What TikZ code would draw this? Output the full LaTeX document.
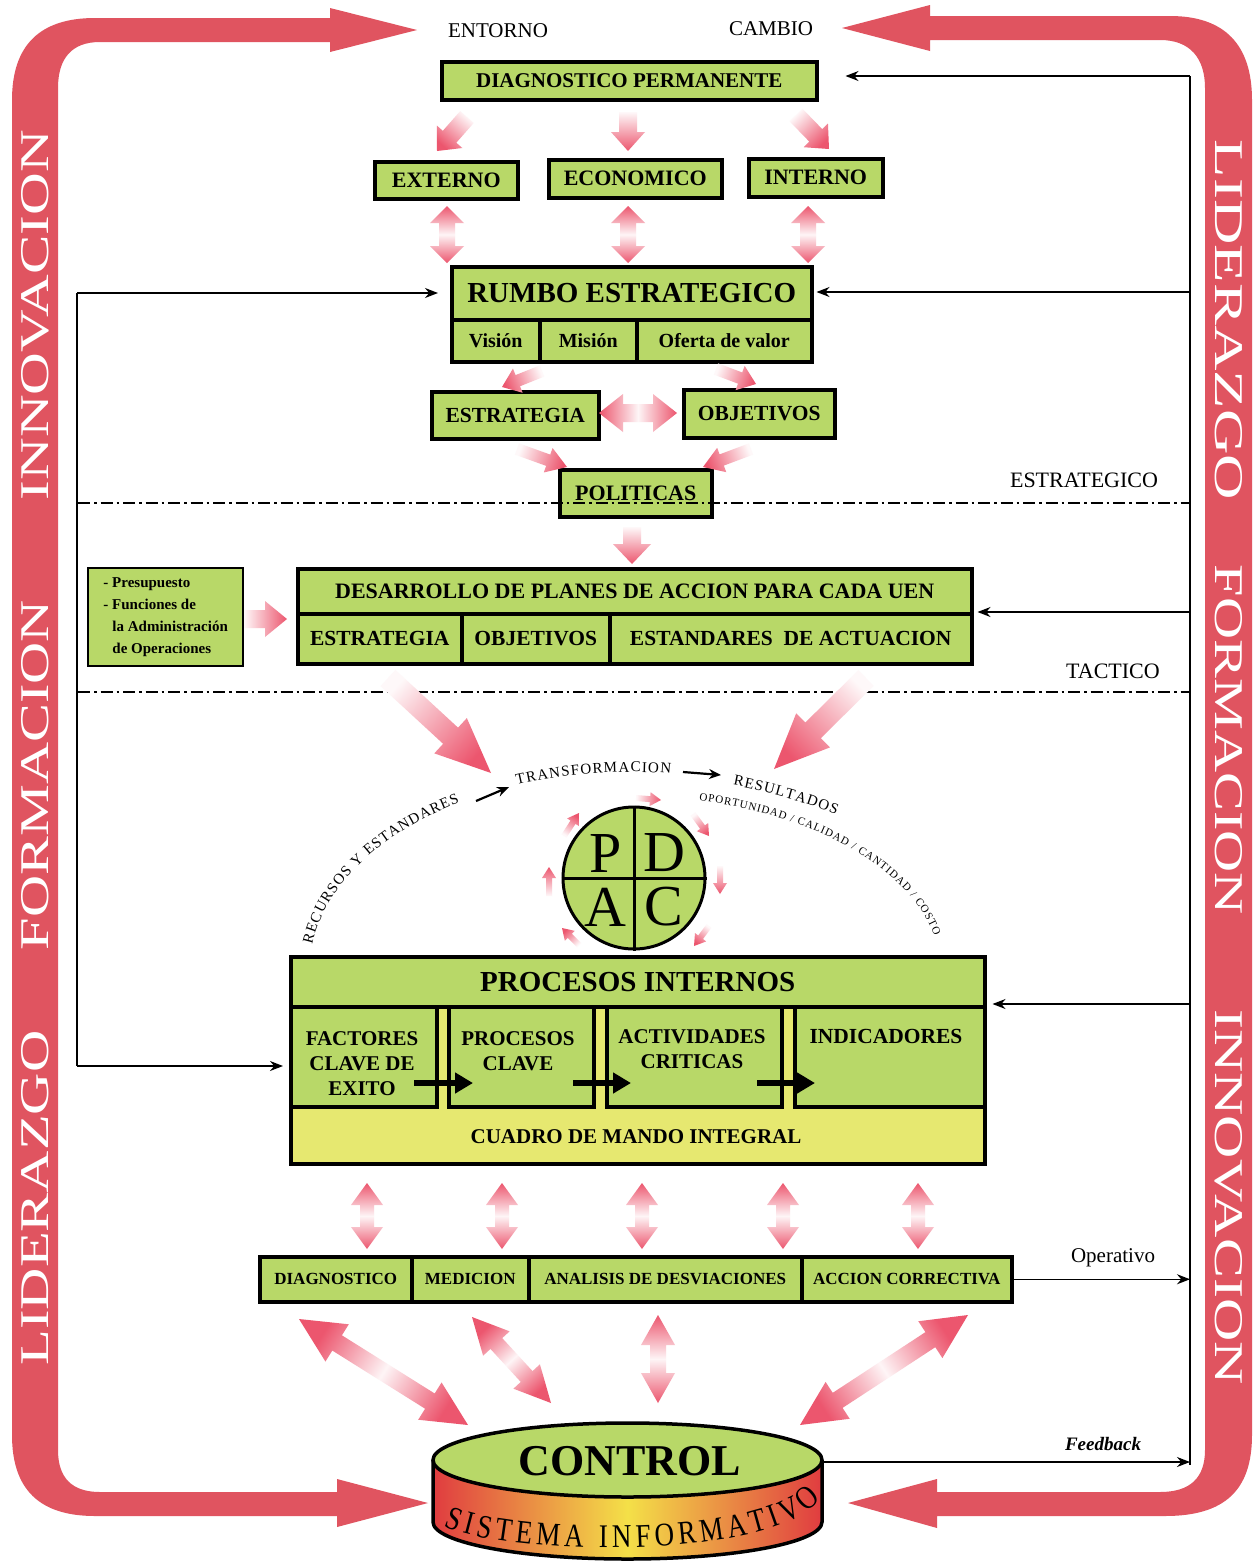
\documentclass[tikz,border=0pt]{standalone}
\usepackage{graphicx}
\usepackage{fontspec}
\setmainfont{Liberation Serif}
\newfontfamily\condserif[FakeStretch=0.82]{Liberation Serif}
\usetikzlibrary{arrows.meta,calc,decorations.text}
\definecolor{bandred}{RGB}{224,84,96}
\definecolor{arrpink}{RGB}{236,86,110}
\definecolor{boxgreen}{RGB}{184,216,104}
\definecolor{stripyel}{RGB}{230,232,112}
\definecolor{cylred}{RGB}{224,60,64}
\definecolor{cylyel}{RGB}{244,224,72}
\newcommand\fsz[1]{\fontsize{#1}{#1}\selectfont}
\newcommand\getang[2]{\path let \p1=(#1),\p2=(#2) in \pgfextra{\pgfmathsetmacro\faA{atan2(\y2-\y1,\x2-\x1)}\global\let\faA\faA};\pgfmathsetmacro\faS{\faA-90}}
\newcommand\sarrow[5]{%
  \getang{#1}{#2}%
  \coordinate (faP) at ($(#2)!#5pt!(#1)$);
  \shade[top color=arrpink, bottom color=arrpink!4, shading angle=\faS]
    ($(#1)!#3pt!90:(#2)$) -- ($(faP)!#3pt!90:(#2)$) -- ($(faP)!#4pt!90:(#2)$) -- (#2)
    -- ($(faP)!#4pt!-90:(#2)$) -- ($(faP)!#3pt!-90:(#2)$) -- ($(#1)!#3pt!-90:(#2)$) -- cycle;}
\newcommand\darrow[5]{%
  \getang{#1}{#2}%
  \coordinate (faP) at ($(#2)!#5pt!(#1)$);
  \coordinate (faQ) at ($(#1)!#5pt!(#2)$);
  \shade[top color=arrpink, bottom color=arrpink, middle color=arrpink!6, shading angle=\faS]
    (#1) -- ($(faQ)!#4pt!90:(#2)$) -- ($(faQ)!#3pt!90:(#2)$) -- ($(faP)!#3pt!90:(#2)$) -- ($(faP)!#4pt!90:(#2)$) -- (#2)
    -- ($(faP)!#4pt!-90:(#2)$) -- ($(faP)!#3pt!-90:(#2)$) -- ($(faQ)!#3pt!-90:(#2)$) -- ($(faQ)!#4pt!-90:(#2)$) -- cycle;}
\newcommand\mybox[7][]{%
  \pgfmathsetlengthmacro\mbw{(#5)-(#3)}%
  \pgfmathsetlengthmacro\mbh{(#6)-(#4)}%
  \node[box,minimum width=\mbw,minimum height=\mbh,#1] (#2) at (#3,#4) {#7};}
\begin{document}
\begin{tikzpicture}[x=1pt,y=-1pt,
  box/.style={draw=black,line width=3.5pt,fill=boxgreen,inner sep=0pt,anchor=north west,font=\bfseries\fsz{21.5}},
  blk/.style={line width=1.4pt,-{Stealth[length=13pt,width=10pt]}},
  thinl/.style={line width=1.4pt},
  karr/.style={line width=2.2pt,-{Stealth[length=12pt,width=10pt]}},
  inarr/.style={line width=6pt,-{Triangle[length=18pt,width=20pt]}},
  dashdot/.style={line width=1.3pt,dash pattern=on 12pt off 4pt on 2.5pt off 4pt},
  lbl/.style={font=\fsz{21},inner sep=0pt},
  bandtxt/.style={text=white,inner sep=0pt}]
\useasboundingbox (0,0) rectangle (1257,1564);
\fill[white] (0,0) rectangle (1257,1564);

% ---------- red frame bands ----------
\fill[bandred] (330,18) -- (95,18) .. controls (40,18) and (12,45) .. (12,100) -- (12,1435) .. controls (12,1490) and (40,1516) .. (95,1516) -- (337,1516) -- (337,1527) -- (428,1503) -- (337,1479) -- (337,1492) -- (100,1492) .. controls (72,1492) and (58,1478) .. (58,1450) -- (58,88) .. controls (58,58) and (72,42) .. (100,42) -- (330,42) -- (330,52) -- (417,30) -- (330,8) -- cycle;
\fill[bandred] (930,16) -- (1170,16) .. controls (1225,16) and (1252,45) .. (1252,100) -- (1252,1435) .. controls (1252,1490) and (1225,1516) .. (1165,1516) -- (937,1516) -- (937,1528) -- (848,1503) -- (937,1479) -- (937,1492) -- (1160,1492) .. controls (1190,1492) and (1205,1478) .. (1205,1450) -- (1205,88) .. controls (1205,58) and (1190,40) .. (1160,40) -- (930,40) -- (930,51) -- (842,28) -- (930,5) -- cycle;
\node[bandtxt,rotate=90] (bl1) at (35,1198) {\resizebox{335pt}{27pt}{LIDERAZGO}};
\node[bandtxt,rotate=90] (bl2) at (35,775) {\resizebox{350pt}{27pt}{FORMACION}};
\node[bandtxt,rotate=90] (bl3) at (35,315) {\resizebox{370pt}{27pt}{INNOVACION}};
\node[bandtxt,rotate=-90] (br1) at (1229,320) {\resizebox{360pt}{27pt}{LIDERAZGO}};
\node[bandtxt,rotate=-90] (br2) at (1229,740) {\resizebox{350pt}{27pt}{FORMACION}};
\node[bandtxt,rotate=-90] (br3) at (1229,1197) {\resizebox{375pt}{27pt}{INNOVACION}};

% ---------- top labels ----------
\node[lbl] (entorno) at (498,31) {ENTORNO};
\node[lbl] (cambio) at (771,29) {CAMBIO};
\node[lbl,font=\fsz{22}] (estlbl) at (1084,480) {ESTRATEGICO};
\node[lbl,font=\fsz{22}] (taclbl) at (1113,671) {TACTICO};
\node[lbl] (oplbl) at (1113,1258) {Operativo};
\node[lbl,font=\bfseries\itshape\fsz{19}] (fblbl) at (1103,1444) {Feedback};

% ---------- boxes ----------
\mybox[font=\bfseries\fsz{21}]{diag}{440}{60}{815}{98}{DIAGNOSTICO PERMANENTE}
\mybox[font=\bfseries\fsz{22}]{ext}{373}{160}{516}{197}{EXTERNO}
\mybox[font=\bfseries\fsz{22}]{eco}{547}{158}{720}{196}{ECONOMICO}
\mybox[font=\bfseries\fsz{22}]{int}{747}{157}{881}{195}{INTERNO}
\mybox[font=\bfseries\fsz{29}]{rumbo}{450}{265}{810}{318}{RUMBO ESTRATEGICO}
\mybox[font=\bfseries\fsz{20}]{vis}{450}{318}{538}{360}{Visión}
\mybox[font=\bfseries\fsz{20}]{mis}{538}{318}{635}{360}{Misión}
\mybox[font=\bfseries\fsz{20}]{ofe}{635}{318}{810}{360}{Oferta de valor}
\mybox{estr}{430}{390}{597}{437}{ESTRATEGIA}
\mybox{obj}{682}{388}{833}{436}{OBJETIVOS}
\mybox[font=\bfseries\fsz{22}]{pol}{558}{468}{710}{515}{POLITICAS}
\mybox[line width=2.4pt,align=left,font=\bfseries\fontsize{15}{22}\selectfont]{note}{87}{567}{242}{665}{- Presupuesto\\- Funciones de\\\hspace*{9pt}la Administración\\\hspace*{9pt}de Operaciones}
\mybox[font=\bfseries\fsz{22}]{desa}{296}{567}{970}{612}{DESARROLLO DE PLANES DE ACCION PARA CADA UEN}
\mybox{ds1}{296}{612}{460}{662}{ESTRATEGIA}
\mybox{ds2}{460}{612}{608}{662}{OBJETIVOS}
\mybox{ds3}{608}{612}{970}{662}{ESTANDARES\ \ DE ACTUACION}
\mybox[fill=stripyel]{procbg}{289}{955}{983}{1162}{}
\mybox[font=\bfseries\fsz{29}]{proc}{289}{955}{983}{1005}{PROCESOS INTERNOS}
\mybox{c1}{289}{1005}{435}{1105}{}
\mybox{c2}{447}{1005}{592}{1105}{}
\mybox{c3}{605}{1005}{780}{1105}{}
\mybox{c4}{793}{1005}{983}{1105}{}
\node[font=\bfseries\fontsize{21}{25}\selectfont,align=center,inner sep=0pt] (t1) at (362,1064) {FACTORES\\CLAVE DE\\EXITO};
\node[font=\bfseries\fontsize{21}{25}\selectfont,align=center,inner sep=0pt] (t2) at (518,1051) {PROCESOS\\CLAVE};
\node[font=\bfseries\fontsize{21}{25}\selectfont,align=center,inner sep=0pt] (t3) at (692,1049) {ACTIVIDADES\\CRITICAS};
\node[font=\bfseries\fsz{21.5},inner sep=0pt] (t4) at (886,1036) {INDICADORES};
\node[font=\bfseries\fsz{21},inner sep=0pt] (cmi) at (636,1137) {CUADRO DE MANDO INTEGRAL};
\coordinate (ia1) at (414,1083); \coordinate (ia1e) at (473,1083);
\coordinate (ia2) at (573,1083); \coordinate (ia2e) at (631,1083);
\coordinate (ia3) at (757,1083); \coordinate (ia3e) at (815,1083);
\draw[inarr] (ia1) -- (ia1e);
\draw[inarr] (ia2) -- (ia2e);
\draw[inarr] (ia3) -- (ia3e);
\mybox[font=\bfseries\fsz{17}]{bDiag}{258}{1255}{410}{1300}{DIAGNOSTICO}
\mybox[font=\bfseries\fsz{17}]{bMed}{410}{1255}{527}{1300}{MEDICION}
\mybox[font=\bfseries\fsz{17}]{bAna}{527}{1255}{800}{1300}{ANALISIS DE DESVIACIONES}
\mybox[font=\bfseries\fsz{17}]{bAcc}{800}{1255}{1010}{1300}{ACCION CORRECTIVA}

% ---------- dash-dot level lines ----------
\coordinate (dl1a) at (78,503); \coordinate (dl1b) at (1190,503);
\coordinate (dl2a) at (78,692); \coordinate (dl2b) at (1190,692);
\draw[dashdot] (dl1a) -- (dl1b);
\draw[dashdot] (dl2a) -- (dl2b);

% ---------- black feedback lines ----------
\coordinate (L1) at (77,293);
\coordinate (L2) at (77,1066);
\coordinate (R1) at (1190,76);
\coordinate (R2) at (1190,292);
\coordinate (R3) at (1190,612);
\coordinate (R4) at (1190,1004);
\coordinate (R5) at (1190,1465);
\draw[thinl] (L1) -- (L2);
\draw[blk,shorten >=12pt] (L1) -- (L1 -| rumbo.west);
\draw[blk,shorten >=6pt] (L2) -- (L2 -| c1.west);
\draw[thinl] (R1) -- (R5);
\draw[blk,shorten >=27pt] (R1) -- (R1 -| diag.east);
\draw[blk,shorten >=3pt] (R2) -- (R2 -| rumbo.east);
\draw[blk,shorten >=4pt] (R3) -- (R3 -| desa.east);
\draw[blk,shorten >=6pt] (R4) -- (R4 -| procbg.east);
\draw[blk] (bAcc.east) -- (bAcc.east -| R1);

% ---------- PDCA ----------
\node[circle,draw=black,line width=3pt,fill=boxgreen,minimum size=142pt,inner sep=0pt] (pdca) at (634,878) {};
\draw[line width=3pt] (pdca.north) -- (pdca.south) (pdca.west) -- (pdca.east);
\node[font=\fsz{58},inner sep=0pt] (pP) at (606,853) {P};
\node[font=\fsz{58},inner sep=0pt] (pD) at (664,853) {D};
\node[font=\fsz{58},inner sep=0pt] (pA) at (605,907) {A};
\node[font=\fsz{58},inner sep=0pt] (pC) at (664,907) {C};
\coordinate (p1s) at (636,798); \coordinate (p1e) at (661,800);
\coordinate (p2s) at (693,814); \coordinate (p2e) at (709,836);
\coordinate (p3s) at (720,866); \coordinate (p3e) at (720,894);
\coordinate (p4s) at (709,926); \coordinate (p4e) at (694,946);
\coordinate (p5s) at (579,945); \coordinate (p5e) at (562,928);
\coordinate (p6s) at (549,896); \coordinate (p6e) at (549,867);
\coordinate (p7s) at (564,836); \coordinate (p7e) at (579,813);
\sarrow{p1s}{p1e}{3}{7}{11}
\sarrow{p2s}{p2e}{3}{7}{11}
\sarrow{p3s}{p3e}{3}{7}{11}
\sarrow{p4s}{p4e}{3}{7}{11}
\sarrow{p5s}{p5e}{3}{7}{11}
\sarrow{p6s}{p6e}{3}{7}{11}
\sarrow{p7s}{p7e}{3}{7}{11}

% ---------- arc texts ----------
\coordinate (arcC) at (629,972);
\path[decorate,decoration={text along path,text align={fit to path},text={|\fsz{15}|RECURSOS Y ESTANDARES}}] ($(arcC)+(172:320pt and 200pt)$) arc[start angle=172,end angle=122,x radius=320pt,y radius=200pt];
\path[decorate,decoration={text along path,text align={fit to path},text={|\fsz{15}|TRANSFORMACION}}] ($(arcC)+(110.5:320pt and 200pt)$) arc[start angle=110.5,end angle=82.5,x radius=320pt,y radius=200pt];
\path[decorate,decoration={text along path,text align={fit to path},text={|\fsz{15}|RESULTADOS}}] (733,785) .. controls (768,792) and (803,801) .. (836,815);
\path[decorate,decoration={text along path,text align={fit to path},text={|\fsz{11}|OPORTUNIDAD / CALIDAD / CANTIDAD / COSTO}}] ($(arcC)+(77:312pt and 176pt)$) arc[start angle=77,end angle=12,x radius=312pt,y radius=176pt];
\coordinate (ka1) at (476,801); \coordinate (ka1e) at (509,787);
\coordinate (ka2) at (683,772); \coordinate (ka2e) at (721,775);
\draw[karr] (ka1) -- (ka1e);
\draw[karr] (ka2) -- (ka2e);

% ---------- CONTROL cylinder ----------
\coordinate (cylC) at (627.5,1460);
\shade[left color=cylred,right color=cylred,middle color=cylyel] (433,1460) -- (433,1522) arc[start angle=180,end angle=360,x radius=194.5pt,y radius=37pt] -- (822,1460) arc[start angle=0,end angle=-180,x radius=194.5pt,y radius=37pt] -- cycle;
\draw[line width=3.5pt] (433,1460) -- (433,1522) arc[start angle=180,end angle=360,x radius=194.5pt,y radius=37pt] -- (822,1460);
\draw[fill=boxgreen,line width=3.5pt] (cylC) ellipse[x radius=194.5pt,y radius=37pt];
\node[font=\bfseries\fsz{44},inner sep=0pt] (control) at (630,1461) {CONTROL};
\path[decorate,decoration={text along path,text align={fit to path},text={|\condserif\fsz{33}|SISTEMA INFORMATIVO}}] (444,1526) .. controls (505,1556) and (770,1562) .. (821,1499);
\coordinate (cylR) at (822,1462);
\draw[blk] (cylR) -- (cylR -| R1);

% ---------- pink arrows ----------
\coordinate (a1s) at (467,117); \coordinate (a1e) at (437,151);
\coordinate (a2s) at (628,112); \coordinate (a2e) at (628,151);
\coordinate (a3s) at (796,115); \coordinate (a3e) at (829,149);
\sarrow{a1s}{a1e}{9}{17}{19}
\sarrow{a2s}{a2e}{9}{17}{19}
\sarrow{a3s}{a3e}{9}{17}{19}
\coordinate (d1s) at (447,206); \coordinate (d1e) at (447,263);
\coordinate (d2s) at (628,206); \coordinate (d2e) at (628,263);
\coordinate (d3s) at (808,206); \coordinate (d3e) at (808,263);
\darrow{d1s}{d1e}{8}{17}{17}
\darrow{d2s}{d2e}{8}{17}{17}
\darrow{d3s}{d3e}{8}{17}{17}
\coordinate (a4s) at (542,371); \coordinate (a4e) at (502,387);
\coordinate (a5s) at (716,369); \coordinate (a5e) at (756,384);
\sarrow{a4s}{a4e}{6}{13}{17}
\sarrow{a5s}{a5e}{6}{13}{17}
\coordinate (hs) at (599,413); \coordinate (he) at (677,413);
\darrow{hs}{he}{9}{19}{24}
\coordinate (a7s) at (517,449); \coordinate (a7e) at (567,467);
\coordinate (a8s) at (751,449); \coordinate (a8e) at (703,467);
\sarrow{a7s}{a7e}{6}{13}{20}
\sarrow{a8s}{a8e}{6}{13}{20}
\coordinate (a9s) at (632,527); \coordinate (a9e) at (632,564);
\sarrow{a9s}{a9e}{9}{19}{20}
\coordinate (a10s) at (244,619); \coordinate (a10e) at (287,619);
\sarrow{a10s}{a10e}{9}{18}{22}
\coordinate (a11s) at (388,678); \coordinate (a11e) at (491,773);
\coordinate (a12s) at (866,678); \coordinate (a12e) at (774,769);
\sarrow{a11s}{a11e}{11}{24}{55}
\sarrow{a12s}{a12e}{11}{24}{55}
\coordinate (e1s) at (367,1183); \coordinate (e1e) at (367,1249);
\coordinate (e2s) at (502,1183); \coordinate (e2e) at (502,1249);
\coordinate (e3s) at (642,1183); \coordinate (e3e) at (642,1249);
\coordinate (e4s) at (783,1183); \coordinate (e4e) at (783,1249);
\coordinate (e5s) at (918,1183); \coordinate (e5e) at (918,1249);
\darrow{e1s}{e1e}{7}{16}{22}
\darrow{e2s}{e2e}{7}{16}{22}
\darrow{e3s}{e3e}{7}{16}{22}
\darrow{e4s}{e4e}{7}{16}{22}
\darrow{e5s}{e5e}{7}{16}{22}
\coordinate (f1s) at (299,1319); \coordinate (f1e) at (468,1425);
\coordinate (f2s) at (472,1317); \coordinate (f2e) at (551,1403);
\coordinate (f3s) at (658,1315); \coordinate (f3e) at (658,1403);
\coordinate (f4s) at (968,1315); \coordinate (f4e) at (800,1425);
\darrow{f1s}{f1e}{9}{22}{45}
\darrow{f2s}{f2e}{8}{18}{36}
\darrow{f3s}{f3e}{8}{17}{30}
\darrow{f4s}{f4e}{9}{22}{45}
\end{tikzpicture}
\end{document}
